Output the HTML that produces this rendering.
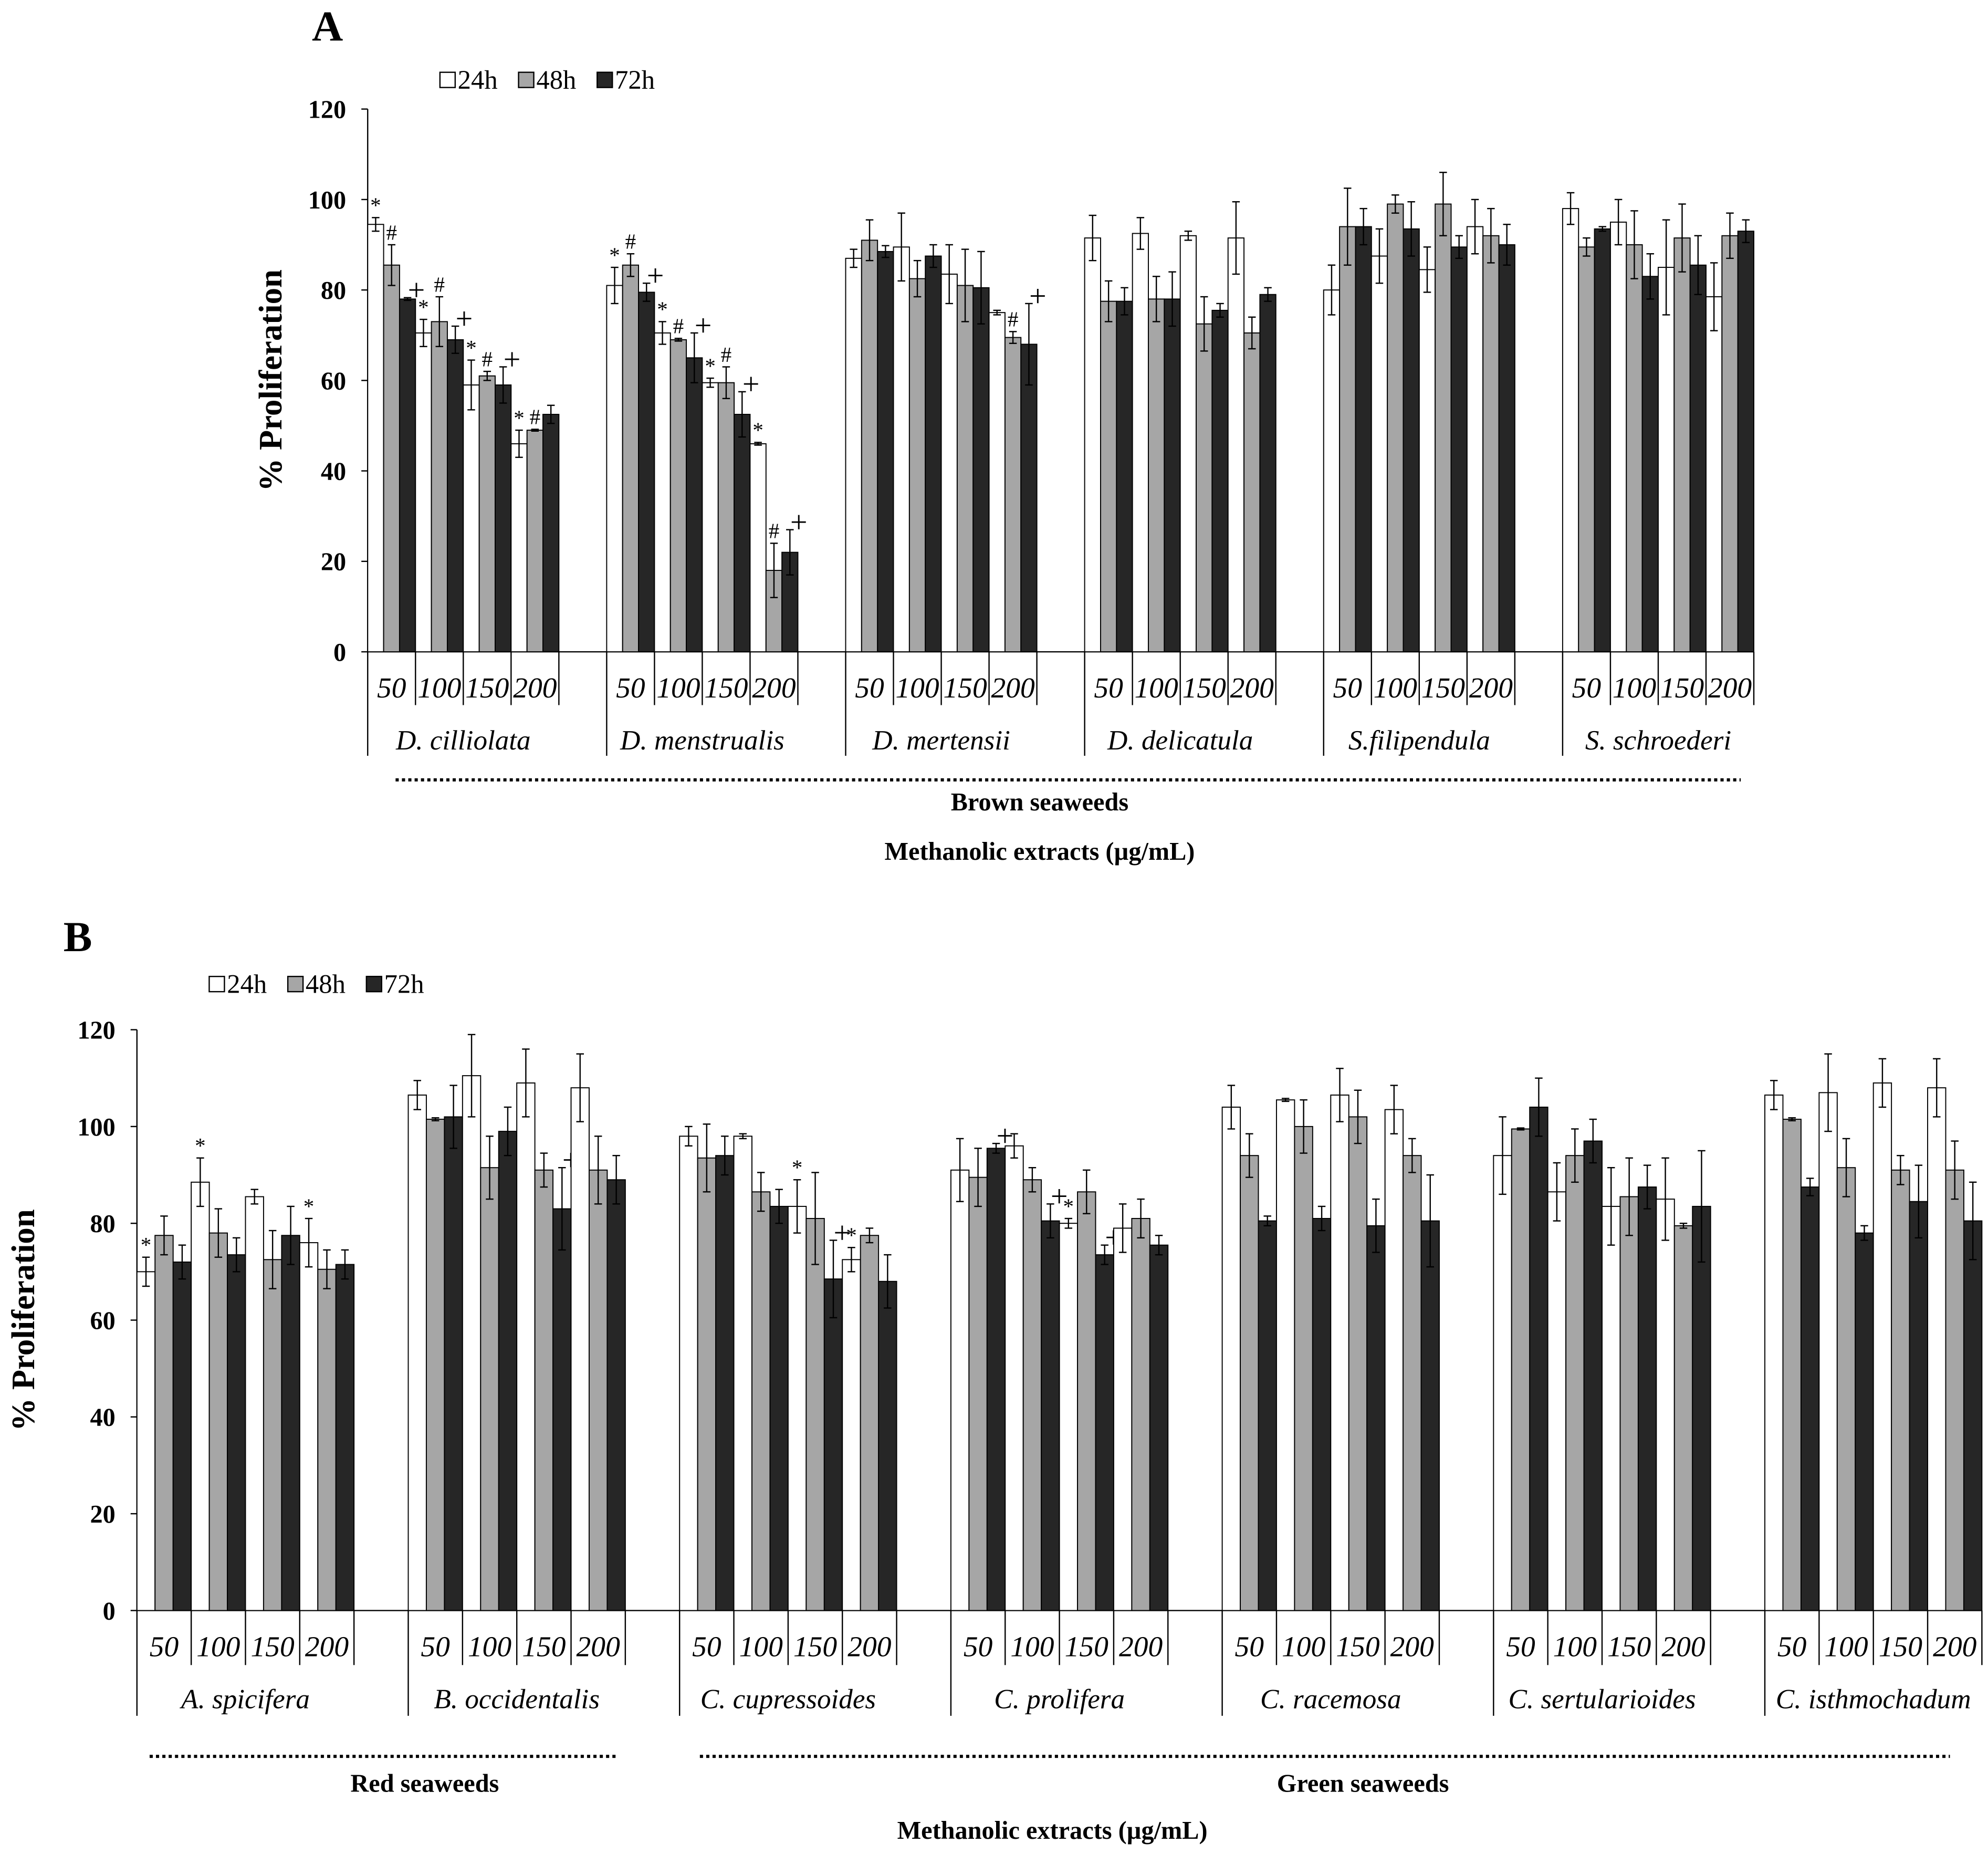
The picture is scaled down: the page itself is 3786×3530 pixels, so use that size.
<!DOCTYPE html>
<html><head><meta charset="utf-8"><style>
html,body{margin:0;padding:0;background:#fff;}
svg{display:block;}
text{font-family:"Liberation Serif","DejaVu Serif",serif;fill:#000;}
</style></head><body>
<svg id="chart" width="3786" height="3530" viewBox="0 0 1568 1462" font-family="Liberation Serif, serif" xmlns="http://www.w3.org/2000/svg"></svg>
<script>
const concLabels = ["50","100","150","200"];
const seriesNames = ["24h","48h","72h"];
const yTicks = [0,20,40,60,80,100,120];

const catsA = ["D. cilliolata","D. menstrualis","D. mertensii","D. delicatula","S.filipendula","S. schroederi"];
const valsA24 = [[94.5,70.5,59,46],[81,70.5,59.5,46],[87,89.5,83.5,75],[91.5,92.5,92,91.5],[80,87.5,84.5,94],[98,95,85,78.5]];
const valsA48 = [[85.5,73,61,49],[85.5,69,59.5,18],[91,82.5,81,69.5],[77.5,78,72.5,70.5],[94,99,99,92],[89.5,90,91.5,92]];
const valsA72 = [[78,69,59,52.5],[79.5,65,52.5,22],[88.5,87.5,80.5,68],[77.5,78,75.5,79],[94,93.5,89.5,90],[93.5,83,85.5,93]];
const errA24 = [[1.5,3,5.5,3],[4,2.5,1,0.3],[2,7.5,6.5,0.5],[5,3.5,1,8],[5.5,6,5,6],[3.5,5,10.5,7.5]];
const errA48 = [[4.5,5.5,1,0.2],[2.5,0.3,3.5,6],[4.5,4,8,1.3],[4.5,5,6,3.5],[8.5,2,7,6],[2,7.5,7.5,5]];
const errA72 = [[0.3,3,4,2],[2,5.5,5,5],[1.3,2.5,8,9],[3,6,1.5,1.5],[4,6,2.5,4.5],[0.5,5,6.5,2.5]];
const symA24 = [["*","*","*","*"],["*","*","*","*"],["","","",""],["","","",""],["","","",""],["","","",""]];
const symA48 = [["#","#","#","#"],["#","#","#","#"],["","","","#"],["","","",""],["","","",""],["","","",""]];
const symA72 = [["+","+","+",""],["+","+","+","+"],["","","","+"],["","","",""],["","","",""],["","","",""]];

const catsB = ["A. spicifera","B. occidentalis","C. cupressoides","C. prolifera","C. racemosa","C. sertularioides","C. isthmochadum"];
const valsB24 = [[70,88.5,85.5,76],[106.5,110.5,109,108],[98,98,83.5,72.5],[91,96,80,79],[104,105.5,106.5,103.5],[94,86.5,83.5,85],[106.5,107,109,108]];
const valsB48 = [[77.5,78,72.5,70.5],[101.5,91.5,91,91],[93.5,86.5,81,77.5],[89.5,89,86.5,81],[94,100,102,94],[99.5,94,85.5,79.5],[101.5,91.5,91,91]];
const valsB72 = [[72,73.5,77.5,71.5],[102,99,83,89],[94,83.5,68.5,68],[95.5,80.5,73.5,75.5],[80.5,81,79.5,80.5],[104,97,87.5,83.5],[87.5,78,84.5,80.5]];
const errB24 = [[3,5,1.5,5],[3,8.5,7,7],[2,0.5,5.5,2.5],[6.5,2.5,1,5],[4.5,0.3,5.5,5],[8,6,8,8.5],[3,8,5,6]];
const errB48 = [[4,5,6,4],[0.3,6.5,3.5,7],[7,4,9.5,1.5],[6,2.5,4.5,4],[4.5,5.5,5.5,3.5],[0.2,5.5,8,0.5],[0.3,6,3,6]];
const errB72 = [[3.5,3.5,6,3],[6.5,5,8.5,5],[4,3.5,8,5.5],[1,3.5,2,2],[1,2.5,5.5,9.5],[6,4.5,4.5,11.5],[1.8,1.5,7.5,8]];
const symB24 = [["*","*","","*"],["","","",""],["","","*","*"],["","","*",""],["","","",""],["","","",""],["","","",""]];
const symB48 = [["","","",""],["","","",""],["","","",""],["","","",""],["","","",""],["","","",""],["","","",""]];
const symB72 = [["","","",""],["","","+",""],["","","+",""],["+","+","+",""],["","","",""],["","","",""],["","","",""]];

const NS="http://www.w3.org/2000/svg";
const svg=document.getElementById('chart');
function mk(tag,attrs,parent,txt){const e=document.createElementNS(NS,tag);for(const k in attrs)e.setAttribute(k,attrs[k]);if(txt!==undefined)e.textContent=txt;(parent||svg).appendChild(e);return e;}
const fills=["#ffffff","#a6a6a6","#262626"];

function panel(p){
  const g=mk('g',{});
  
  
  const yS=v=>p.y0-(v/120)*(p.y0-p.y120);
  const slot=p.gw/5, bw=slot/3;
  const xEnd=p.x0+(p.cats.length-1)*p.gw+4*slot;
  const ya=mk('line',{x1:p.x0,y1:p.y120,x2:p.x0,y2:p.y0,stroke:'#000','stroke-width':1},g);
  
  
  yTicks.forEach(t=>{
    mk('line',{x1:p.x0-5,x2:p.x0,y1:yS(t),y2:yS(t),stroke:'#000','stroke-width':1},g);
    const tl=mk('text',{x:p.x0-17,y:yS(t)+7,'text-anchor':'end','font-size':20,'font-weight':'bold'},g,String(t));
    
    
  });
  const xa=mk('line',{x1:p.x0,y1:p.y0,x2:xEnd,y2:p.y0,stroke:'#000','stroke-width':1},g);
  
  
  const sets=[[p.v24,p.e24,p.s24],[p.v48,p.e48,p.s48],[p.v72,p.e72,p.s72]];
  p.cats.forEach((c,ci)=>{
    const gx=p.x0+ci*p.gw;
    mk('line',{x1:gx,x2:gx,y1:p.y0,y2:p.gLineEnd,stroke:'#000','stroke-width':1},g);
    concLabels.forEach((cl,ki)=>{
      const sx=gx+ki*slot;
      if(ki>0) mk('line',{x1:sx,x2:sx,y1:p.y0,y2:p.tickEnd,stroke:'#000','stroke-width':1},g);
      const t=mk('text',{x:sx+slot/2,y:p.tickY,'text-anchor':'middle','font-size':23,'font-style':'italic'},g,cl);
      
      
      sets.forEach((s,si)=>{
        const v=s[0][ci][ki], e=s[1][ci][ki], sym=s[2][ci][ki];
        const bx=sx+si*bw, by=yS(v);
        const r=mk('rect',{x:bx,y:by,width:bw,height:p.y0-by,fill:fills[si],stroke:'#000','stroke-width':0.8},g);
        
        
        const cx=bx+bw/2;
        mk('line',{x1:cx,x2:cx,y1:yS(v+e),y2:yS(v-e),stroke:'#000','stroke-width':1},g);
        mk('line',{x1:cx-3,x2:cx+3,y1:yS(v+e),y2:yS(v+e),stroke:'#000','stroke-width':1},g);
        mk('line',{x1:cx-3,x2:cx+3,y1:yS(v-e),y2:yS(v-e),stroke:'#000','stroke-width':1},g);
        if(sym){
          const st=mk('text',{x:cx+(sym==='+'?7:0),y:yS(v+e)-(sym==='+'?-2:4),'text-anchor':'middle','font-size':sym==='+'?24:17,fill:sym==='+'?'#000':'#555'},g,sym);
          
          
        }
      });
    });
    mk('line',{x1:gx+4*slot,x2:gx+4*slot,y1:p.y0,y2:p.tickEnd,stroke:'#000','stroke-width':1},g);
    const ct=mk('text',{x:gx+2*slot,y:p.catY,'text-anchor':'middle','font-size':22,'font-style':'italic'},g,c);
    
    
  });
  const yt=mk('text',{x:0,y:0,transform:`translate(${p.ytX},${(p.y0+p.y120)/2}) rotate(-90)`,'text-anchor':'middle','font-size':26,'font-weight':'bold'},g,'% Proliferation');
  
  
  const L=mk('text',{x:p.letX,y:p.letY,'font-size':34,'font-weight':'bold'},g,p.letter);
  
  
  let lx=p.legX;
  seriesNames.forEach((s,si)=>{
    const r=mk('rect',{x:lx,y:p.legY-13,width:12,height:12,fill:fills[si],stroke:'#000','stroke-width':1},g);
    
    
    const t=mk('text',{x:lx+14,y:p.legY,'font-size':21},g,s);
    
    
    lx+=62;
  });
  p.brackets.forEach(b=>{
    const d=mk('line',{x1:b[0],x2:b[1],y1:p.dotY,y2:p.dotY,stroke:'#000','stroke-width':2.5,'stroke-dasharray':'2.5 2.5'},g);
    
    
    const t=mk('text',{x:b[2],y:p.grpY,'text-anchor':'middle','font-size':20,'font-weight':'bold'},g,b[3]);
    
    
  });
  const xt=mk('text',{x:p.xtX,y:p.xtY,'text-anchor':'middle','font-size':20,'font-weight':'bold'},g,'Methanolic extracts (µg/mL)');
  
  
}

panel({name:'panel-a',letter:'A',letX:246,letY:32,legX:347,legY:70,x0:290,y0:514,y120:86,gw:188.5,cats:catsA,
  v24:valsA24,v48:valsA48,v72:valsA72,e24:errA24,e48:errA48,e72:errA72,s24:symA24,s48:symA48,s72:symA72,
  tickY:550,tickEnd:556,catY:591,gLineEnd:596,ytX:222,dotY:615,grpY:639,xtX:820,xtY:678,
  brackets:[[312,1373,820,'Brown seaweeds']]});
panel({name:'panel-b',letter:'B',letX:50,letY:750,legX:165,legY:783,x0:108,y0:1270,y120:812,gw:214,cats:catsB,
  v24:valsB24,v48:valsB48,v72:valsB72,e24:errB24,e48:errB48,e72:errB72,s24:symB24,s48:symB48,s72:symB72,
  tickY:1306,tickEnd:1313,catY:1347,gLineEnd:1353,ytX:27,dotY:1385,grpY:1413,xtX:830,xtY:1450,
  brackets:[[118,488,335,'Red seaweeds'],[552,1538,1075,'Green seaweeds']]});
</script>
</body></html>
